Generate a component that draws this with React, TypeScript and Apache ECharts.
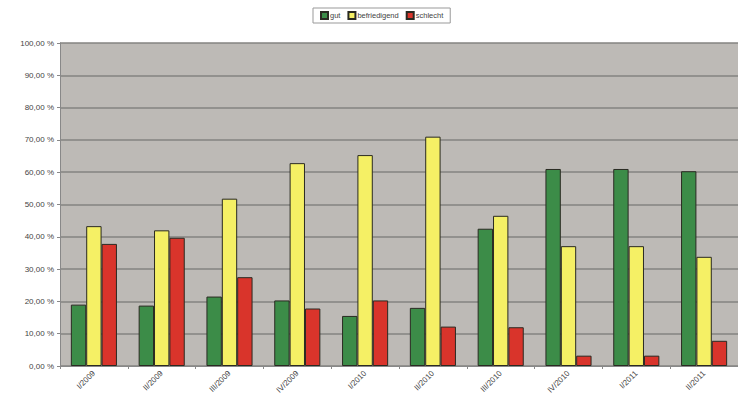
import React, { useEffect, useRef } from "react";
import * as echarts from "echarts";

const categories = ["I/2009", "II/2009", "III/2009", "IV/2009", "I/2010", "II/2010", "III/2010", "IV/2010", "I/2011", "II/2011"];
const gut = [19.0, 18.7, 21.5, 20.3, 15.5, 18.0, 42.5, 61.0, 61.0, 60.3];
const befriedigend = [43.3, 42.0, 51.8, 62.8, 65.3, 71.0, 46.5, 37.1, 37.1, 33.8];
const schlecht = [37.8, 39.7, 27.5, 17.8, 20.3, 12.2, 12.0, 3.2, 3.2, 7.8];
const yTicks = { min: 0, max: 100, interval: 10 };

export default function App() {
  const ref = useRef<HTMLDivElement>(null);
  useEffect(() => {
    document.body.style.margin = "0";
    const chart = echarts.init(ref.current!, undefined, { renderer: "svg" });
    const font = "Liberation Sans";
    const barStyle = (c: string) => ({ color: c, borderColor: "#2a2a22", borderWidth: 1 });
    chart.setOption({
      animation: false,
      backgroundColor: "#ffffff",
      legend: {
        top: 8,
        left: 313,
        itemWidth: 7,
        itemHeight: 7,
        itemGap: 7,
        padding: [3, 7],
        borderColor: "#999",
        borderWidth: 1,
        icon: "rect",
        textStyle: { fontSize: 7.5, color: "#444", fontFamily: font, padding: [0, 0, 0, -3] },
        data: ["gut", "befriedigend", "schlecht"],
      },
      grid: { left: 60, right: 0, top: 43, bottom: 34, show: true, backgroundColor: "#bdbab6", borderWidth: 0 },
      xAxis: {
        type: "category",
        data: categories,
        axisLine: { lineStyle: { color: "#888" } },
        axisTick: { show: true, lineStyle: { color: "#888" }, length: 3 },
        axisLabel: { rotate: 45, fontSize: 8, color: "#444", fontFamily: font, margin: 6 },
      },
      yAxis: {
        type: "value",
        min: yTicks.min,
        max: yTicks.max,
        interval: yTicks.interval,
        axisLine: { show: true, lineStyle: { color: "#888" } },
        axisTick: { show: true, length: 3, lineStyle: { color: "#888" } },
        splitLine: { lineStyle: { color: "#858380", width: 1.5 } },
        axisLabel: {
          fontSize: 8,
          color: "#444",
          fontFamily: font,
          margin: 6,
          formatter: (v: number) => v.toFixed(2).replace(".", ",") + " %",
        },
      },
      series: [
        { name: "gut", type: "bar", data: gut, barGap: "0%", barCategoryGap: "32%", itemStyle: barStyle("#3c8c48") },
        { name: "befriedigend", type: "bar", data: befriedigend, itemStyle: barStyle("#f5f065") },
        { name: "schlecht", type: "bar", data: schlecht, itemStyle: barStyle("#d9342b") },
      ],
    });
    return () => chart.dispose();
  }, []);
  return <div ref={ref} style={{ width: 738, height: 400, position: "fixed", left: 0, top: 0 }} />;
}
